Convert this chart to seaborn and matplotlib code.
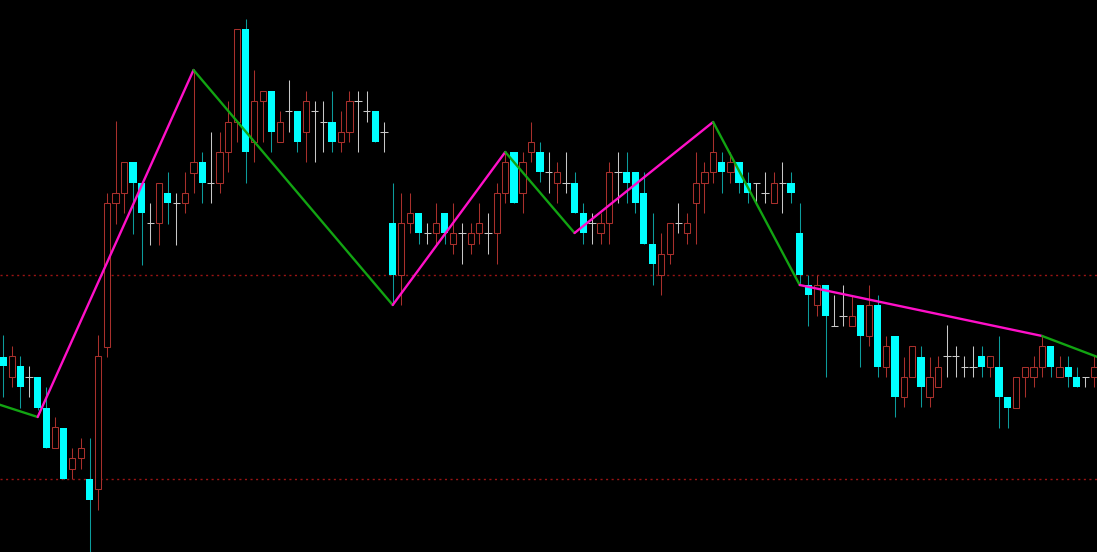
import pandas as pd
import seaborn as sns
import matplotlib
matplotlib.use("Agg")
import matplotlib.pyplot as plt

# daily candles, prices (arbitrary units)
opens = [195, 175, 186, 175, 175, 144, 104, 124, 83, 94, 73, 63, 205, 349, 359, 390, 369, 329, 329, 359,
         349, 349, 379, 390, 369, 369, 400, 430, 523, 410, 451, 461, 410, 441, 441, 420, 441, 430, 430, 410,
         420, 451, 441, 441, 420, 329, 277, 329, 339, 319, 319, 339, 308, 319, 308, 319, 319, 319, 359, 400,
         359, 400, 400, 380, 369, 369, 369, 339, 329, 319, 329, 380, 380, 380, 359, 308, 277, 298, 329, 319,
         349, 369, 380, 390, 380, 390, 369, 369, 359, 349, 369, 369, 319, 267, 247, 267, 226, 236, 226, 247,
         216, 247, 185, 216, 155, 175, 195, 155, 165, 196, 196, 185, 185, 196, 185, 185, 155, 144, 175, 175,
         185, 206, 175, 185, 175, 175, 175]
highs = [217, 206, 196, 186, 175, 165, 135, 124, 104, 114, 114, 217, 359, 431, 390, 390, 369, 349, 369, 380,
         359, 380, 482, 400, 420, 420, 451, 523, 533, 482, 461, 461, 441, 472, 441, 461, 451, 451, 461, 441,
         461, 461, 461, 441, 430, 369, 359, 359, 339, 329, 349, 339, 349, 329, 329, 349, 339, 369, 400, 400,
         400, 430, 410, 400, 390, 400, 380, 349, 339, 339, 390, 400, 400, 380, 380, 339, 319, 329, 349, 339,
         400, 390, 430, 400, 400, 390, 380, 369, 380, 380, 390, 380, 349, 277, 277, 267, 257, 267, 257, 247,
         267, 257, 216, 216, 195, 206, 206, 195, 196, 227, 206, 196, 206, 206, 196, 216, 155, 175, 185, 196,
         216, 206, 196, 196, 185, 175, 196]
lows = [155, 165, 144, 155, 142, 104, 104, 73, 73, 83, 0, 42, 195, 328, 339, 318, 287, 307, 307, 328,
        307, 339, 359, 349, 349, 359, 380, 410, 369, 390, 410, 400, 410, 420, 400, 390, 390, 400, 400, 400,
        410, 400, 430, 410, 400, 247, 247, 319, 308, 308, 308, 308, 298, 288, 298, 308, 298, 288, 349, 349,
        339, 390, 370, 359, 349, 359, 339, 308, 308, 308, 308, 349, 349, 339, 308, 267, 257, 288, 319, 308,
        308, 339, 369, 359, 369, 359, 349, 349, 349, 349, 339, 349, 267, 226, 236, 175, 226, 226, 226, 185,
        206, 175, 175, 135, 145, 175, 145, 145, 165, 175, 175, 175, 175, 175, 175, 124, 124, 144, 155, 165,
        175, 175, 175, 165, 165, 165, 165]
closes = [186, 196, 165, 175, 144, 104, 125, 73, 94, 104, 52, 196, 349, 359, 390, 369, 339, 329, 369, 349,
          349, 359, 390, 369, 369, 400, 430, 523, 400, 451, 461, 420, 430, 441, 410, 451, 441, 430, 410, 420,
          451, 451, 441, 410, 420, 277, 329, 339, 319, 319, 329, 319, 319, 319, 319, 329, 319, 359, 390, 349,
          390, 410, 380, 380, 380, 369, 339, 319, 329, 329, 380, 380, 369, 349, 308, 288, 298, 329, 329, 329,
          369, 380, 400, 380, 390, 369, 359, 369, 359, 369, 369, 359, 277, 257, 267, 236, 226, 236, 236, 216,
          247, 185, 206, 155, 175, 206, 165, 175, 185, 196, 196, 185, 185, 185, 196, 155, 144, 175, 185, 185,
          206, 185, 185, 175, 165, 175, 185]

# zigzag turning points (bar index, price); legs alternate green / magenta
zig_idx = [-1, 4, 22, 45, 58, 66, 82, 92, 120, 127]
zig_val = [149, 135, 482, 247, 400, 319, 430, 267, 216, 193]

# dotted price levels
levels = [277, 73]

df = pd.DataFrame({"open": opens, "high": highs, "low": lows, "close": closes})
df["i"] = range(len(df))

sns.set_style("dark", {"axes.facecolor": "black", "figure.facecolor": "black"})

RED = "#a8302c"
CYAN = "#00ffff"
TEAL = "#0c9c9c"
DOJI = "#c8c8c8"
MAGENTA = "#ff10c8"
GREEN = "#12a412"

fig = plt.figure(figsize=(10.97, 5.52), dpi=100)
ax = fig.add_axes([0, 0, 1, 1])
ax.set_facecolor("black")

w = 0.84
lw = 0.75
for lv in levels:
    ax.axhline(lv, color="#9a1414", ls=(0, (1.5, 2.5)), lw=1.0, zorder=1)

for _, r in df.iterrows():
    i, o, h, l, c = r["i"], r["open"], r["high"], r["low"], r["close"]
    if c > o:
        # hollow red candle, wicks stop at the body
        ax.vlines(i, c, h, color=RED, lw=lw, zorder=2)
        ax.vlines(i, l, o, color=RED, lw=lw, zorder=2)
        ax.bar(i, c - o, bottom=o, width=w - 0.12, facecolor="black", edgecolor=RED, linewidth=lw, zorder=3)
    elif c < o:
        ax.vlines(i, l, h, color=TEAL, lw=lw, zorder=2)
        ax.bar(i, o - c, bottom=c, width=w, color=CYAN, linewidth=0, zorder=3)
    else:
        ax.vlines(i, l, h, color=DOJI, lw=lw, zorder=2)
        ax.hlines(c, i - w / 2, i + w / 2, color=DOJI, lw=lw, zorder=3)

# zigzag legs
for k in range(len(zig_idx) - 1):
    seg = pd.DataFrame({"x": zig_idx[k:k + 2], "y": zig_val[k:k + 2]})
    col = GREEN if k % 2 == 0 else MAGENTA
    sns.lineplot(data=seg, x="x", y="y", color=col, lw=1.7, ax=ax, zorder=4)

ax.set_xlim(-0.35, 126.33)
ax.set_ylim(0, 552)
ax.axis("off")

fig.savefig("out.png", dpi=100, facecolor="black")
